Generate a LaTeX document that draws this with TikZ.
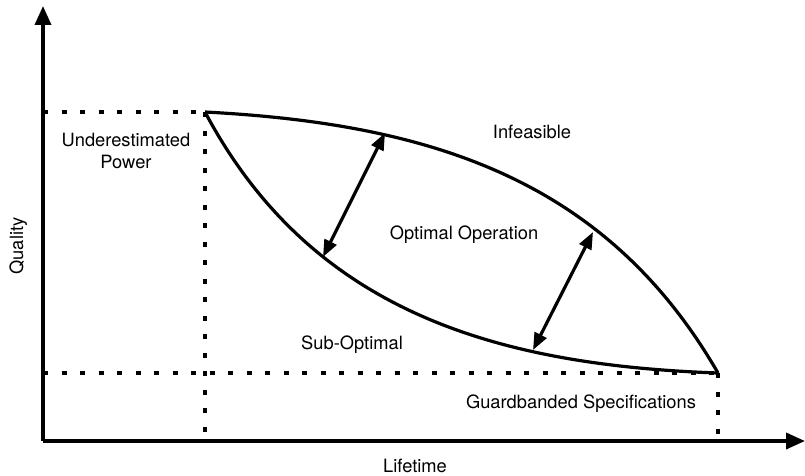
\documentclass[tikz,border=0pt]{standalone}
\usepackage{fontspec}
\setmainfont{TeX Gyre Heros}
\usetikzlibrary{arrows.meta, positioning, calc}

\begin{document}
\begin{tikzpicture}[x=1pt, y=-1pt,
  axisline/.style={line width=3.6pt, -{Triangle[length=19pt, width=16pt]}},
  curveline/.style={line width=3.2pt},
  guideline/.style={line width=3.2pt, dash pattern=on 5pt off 13.5pt},
  gaparrow/.style={line width=3.2pt, {Triangle[length=17pt, width=13pt]}-{Triangle[length=17pt, width=13pt]}},
  lbl/.style={font=\fontsize{18.3}{21.3}\selectfont, align=center, inner sep=0pt}]
  \useasboundingbox (0,0) rectangle (805,476);

  % axes
  \coordinate (origin) at (43,441);
  \coordinate (ytop) at (43,6);
  \coordinate (xend) at (805,441);
  \draw[axisline] (origin) -- (ytop);
  \draw[axisline] (origin) -- (xend);

  % corners of the operating region
  \coordinate (start) at (205,112);
  \coordinate (stop) at (718,373);

  % guide lines
  \draw[guideline] (origin |- start) -- (start);
  \draw[guideline] (start) -- (start |- origin);
  \draw[guideline] (origin |- stop) -- (stop);
  \draw[guideline] (stop) -- (stop |- origin);

  % bounds
  \draw[curveline] (start) to[out=-3, in=120] (stop);
  \draw[curveline] (start) to[out=-62, in=178] (stop);

  % margin arrows
  \coordinate (up1) at (385,133);
  \coordinate (low1) at (323,257);
  \coordinate (up2) at (593,232);
  \coordinate (low2) at (533,350);
  \draw[gaparrow] (up1) -- (low1);
  \draw[gaparrow] (up2) -- (low2);

  % labels
  \node[lbl] (under) at (126,151) {Underestimated\\Power};
  \node[lbl, anchor=base] (infeas) at (532,139) {Infeasible};
  \node[lbl, anchor=base] (optimal) at (464,239) {Optimal Operation};
  \node[lbl, anchor=base] (subopt) at (352,349) {Sub-Optimal};
  \node[lbl, anchor=base] (guard) at (581,408) {Guardbanded Specifications};
  \node[lbl, anchor=base, rotate=90] (quality) at (23,246) {Quality};
  \node[lbl, anchor=base] (life) at (415,472) {Lifetime};
\end{tikzpicture}
\end{document}
